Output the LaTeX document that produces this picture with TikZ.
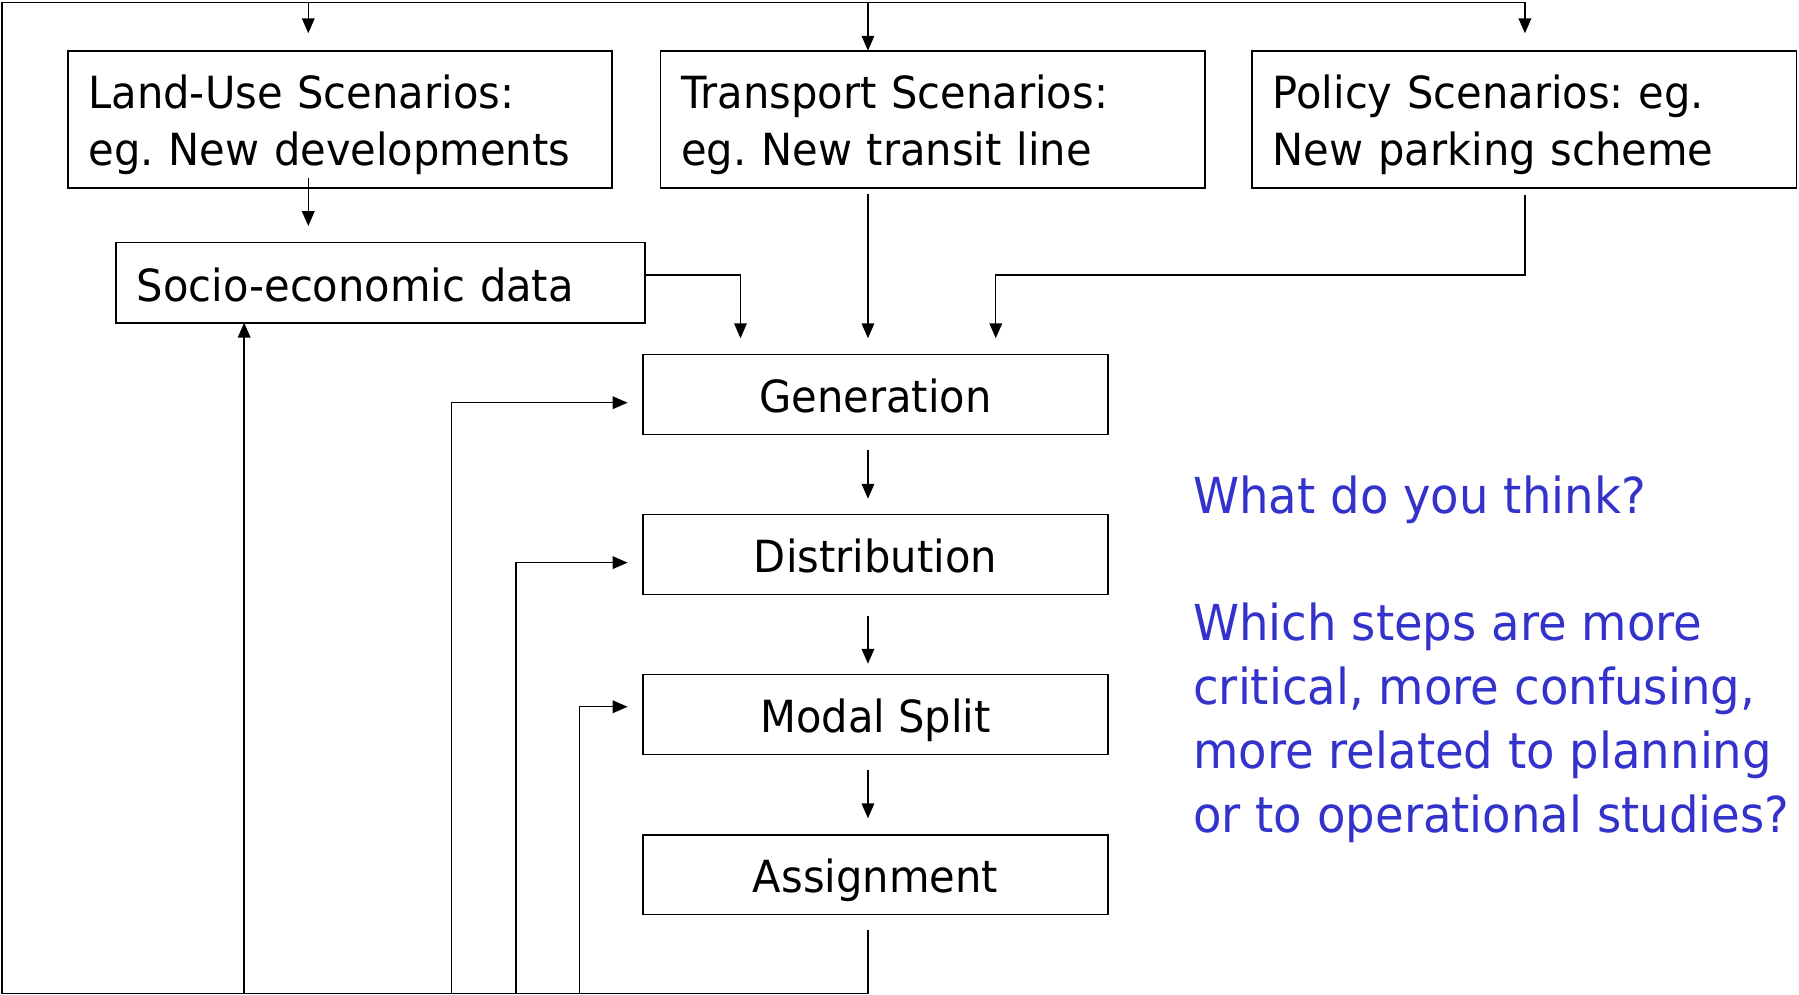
\documentclass[tikz,border=0pt]{standalone}
\usepackage{fontspec}
\setmainfont{DejaVu Sans}[FakeStretch=0.94]
\usetikzlibrary{arrows.meta}
\definecolor{qblue}{RGB}{51,51,204}
\frenchspacing
\begin{document}
\begin{tikzpicture}[x=0.5pt,y=-0.5pt,
  every node/.style={outer sep=0pt},
  boxnode/.style={draw, line width=0.7pt, rectangle, inner sep=0pt, font=\frenchspacing\fontsize{19.3}{25}\selectfont},
  lbox/.style={boxnode, minimum width=237.2pt, minimum height=59.95pt, text width=219.2pt, align=left},
  sbox/.style={boxnode, minimum width=230.4pt, minimum height=34.9pt, text width=212.4pt, align=left, text height=16pt, text depth=0pt},
  cbox/.style={boxnode, minimum width=202.5pt, minimum height=34.75pt, text height=16pt, text depth=0pt},
  tipped/.style={-{Triangle[length=6.5pt,width=5.5pt]}},
  conn/.style={line width=0.6pt, tipped},
  frameline/.style={line width=0.75pt}
]
\useasboundingbox (0,0) rectangle (1568,867);

% boxes
\node[lbox] (lu) at (296.3,104.15) {\rule{0pt}{19.2pt}Land-Use Scenarios:\\eg. New developments};
\node[lbox] (tr) at (813,104.15) {\rule{0pt}{19.2pt}Transport Scenarios:\\eg. New transit line};
\node[lbox] (po) at (1328.5,104.15) {\rule{0pt}{19.2pt}Policy Scenarios: eg.\\New parking scheme};
\node[sbox] (so) at (331.6,246.4) {Socio-economic data};
\node[cbox] (gen) at (763,343.8) {Generation};
\node[cbox] (dist) at (763,483.3) {Distribution};
\node[cbox] (mod) at (763,622.8) {Modal Split};
\node[cbox] (asg) at (763,762.3) {Assignment};

\node[anchor=north west, inner sep=0pt, text=qblue, align=left,
      font=\frenchspacing\fontsize{21.6}{27.8}\selectfont] (q) at (1040,414.6)
  {What do you think?\\[27.8pt]Which steps are more\\critical, more confusing,\\more related to planning\\or to operational studies?};

% coordinates
\coordinate (a0) at (756.5,810.8);
\coordinate (b0) at (756.5,866);
\coordinate (b1) at (2,866);
\coordinate (b2) at (2,2.3);
\coordinate (b3) at (1329.1,2.3);
\coordinate (b3e) at (1329.1,29);
\coordinate (t1) at (268.7,2.3);
\coordinate (t1e) at (268.7,29);
\coordinate (t2) at (756.5,2.3);
\coordinate (lu1) at (268.7,155.4);
\coordinate (so1) at (268.7,197);
\coordinate (so2) at (562,239.7);
\coordinate (so3) at (645.4,239.7);
\coordinate (so4) at (645.4,294.8);
\coordinate (tr1) at (756.5,169.4);
\coordinate (tr2) at (756.5,294.8);
\coordinate (po1) at (1329.1,170);
\coordinate (po2) at (1329.1,239.7);
\coordinate (po3) at (867.9,239.7);
\coordinate (po4) at (867.9,294.8);
\coordinate (g1) at (756.5,392.1);
\coordinate (g2) at (756.5,434.7);
\coordinate (d1) at (756.5,536.6);
\coordinate (d2) at (756.5,578.5);
\coordinate (m1) at (756.5,671.3);
\coordinate (m2) at (756.5,713.2);
\coordinate (f0) at (212.8,866);
\coordinate (f1) at (393.5,866);
\coordinate (f1a) at (393.5,351);
\coordinate (f1b) at (547,351);
\coordinate (f2) at (449.6,866);
\coordinate (f2a) at (449.6,490.4);
\coordinate (f2b) at (547,490.4);
\coordinate (f3) at (504.9,866);
\coordinate (f3a) at (504.9,616);
\coordinate (f3b) at (547,616);

% frame loop
\draw[frameline, tipped] (a0) -- (b0) -- (b1) -- (b2) -- (b3) -- (b3e);
\draw[conn] (t1) -- (t1e);
\draw[conn] (t2) -- (tr.north -| t2);

% into generation
\draw[conn] (lu1) -- (so1);
\draw[conn] (so2) -- (so3) -- (so4);
\draw[conn] (tr1) -- (tr2);
\draw[conn] (po1) -- (po2) -- (po3) -- (po4);

% chain
\draw[conn] (g1) -- (g2);
\draw[conn] (d1) -- (d2);
\draw[conn] (m1) -- (m2);

% feedback
\draw[conn] (f0) -- (so.south -| f0);
\draw[conn] (f1) -- (f1a) -- (f1b);
\draw[conn] (f2) -- (f2a) -- (f2b);
\draw[conn] (f3) -- (f3a) -- (f3b);
\end{tikzpicture}
\end{document}
